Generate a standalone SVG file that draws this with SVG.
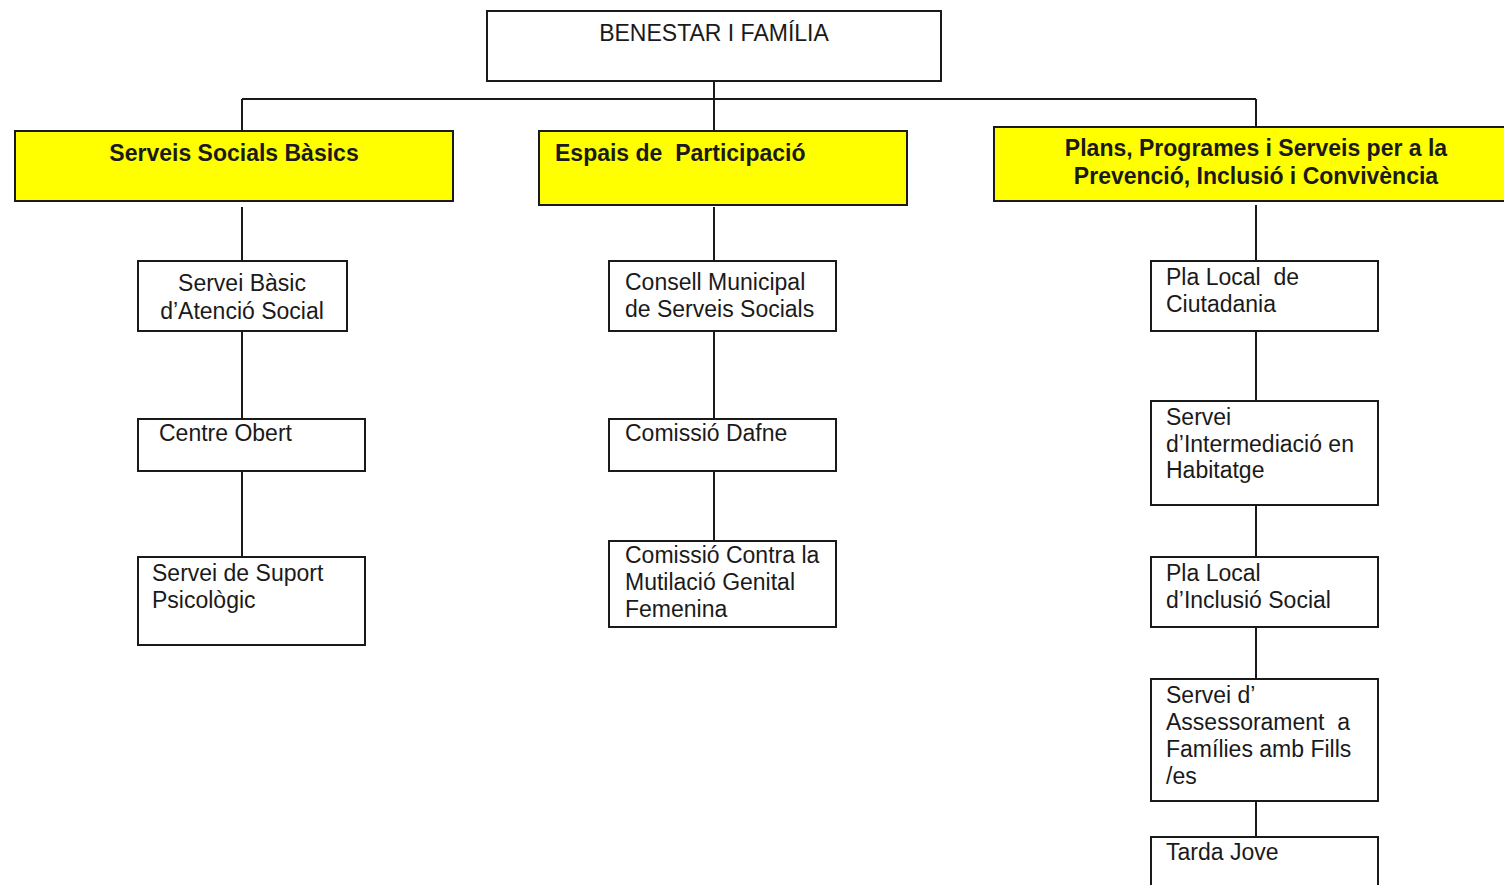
<svg xmlns="http://www.w3.org/2000/svg" width="1504" height="885" viewBox="0 0 1504 885">
<style>
  .box { fill: #ffffff; stroke: #1a1a1a; stroke-width: 2; }
  .ybox { fill: #ffff00; stroke: #1a1a1a; stroke-width: 2; }
  .t { font-family: "Liberation Sans", Arial, sans-serif; font-size: 23px; fill: #1a1a1a; }
  .b { font-family: "Liberation Sans", Arial, sans-serif; font-size: 23px; font-weight: bold; fill: #1a1a1a; }
  .c { text-anchor: middle; }
  .ln { stroke: #1a1a1a; stroke-width: 2; fill: none; }
</style>
<rect width="1504" height="885" fill="#ffffff"/>
<g id="connectors">
  <line class="ln" x1="714" y1="82" x2="714" y2="131"/>
  <line class="ln" x1="242" y1="99" x2="1256" y2="99"/>
  <line class="ln" x1="242" y1="99" x2="242" y2="131"/>
  <line class="ln" x1="1256" y1="99" x2="1256" y2="127"/>
  <line class="ln" x1="242" y1="207" x2="242" y2="261"/>
  <line class="ln" x1="242" y1="331" x2="242" y2="419"/>
  <line class="ln" x1="242" y1="471" x2="242" y2="557"/>
  <line class="ln" x1="714" y1="207" x2="714" y2="261"/>
  <line class="ln" x1="714" y1="331" x2="714" y2="419"/>
  <line class="ln" x1="714" y1="471" x2="714" y2="541"/>
  <line class="ln" x1="1256" y1="205" x2="1256" y2="261"/>
  <line class="ln" x1="1256" y1="331" x2="1256" y2="401"/>
  <line class="ln" x1="1256" y1="505" x2="1256" y2="557"/>
  <line class="ln" x1="1256" y1="627" x2="1256" y2="679"/>
  <line class="ln" x1="1256" y1="801" x2="1256" y2="837"/>
</g>
<g id="benestar">
  <rect class="box" x="487" y="11" width="454" height="70"/>
  <text class="t c" x="714" y="41">BENESTAR I FAMÍLIA</text>
</g>
<g id="serveis-socials-basics">
  <rect class="ybox" x="15" y="131" width="438" height="70"/>
  <text class="b c" x="234" y="161">Serveis Socials Bàsics</text>
</g>
<g id="espais-participacio">
  <rect class="ybox" x="539" y="131" width="368" height="74"/>
  <text class="b" x="555" y="161" xml:space="preserve">Espais de  Participació</text>
</g>
<g id="plans-programes">
  <rect class="ybox" x="994" y="127" width="520" height="74"/>
  <text class="b c" x="1256" y="156">Plans, Programes i Serveis per a la</text>
  <text class="b c" x="1256" y="184">Prevenció, Inclusió i Convivència</text>
</g>
<g id="servei-basic">
  <rect class="box" x="138" y="261" width="209" height="70"/>
  <text class="t c" x="242" y="291">Servei Bàsic</text>
  <text class="t c" x="242" y="319">d’Atenció Social</text>
</g>
<g id="centre-obert">
  <rect class="box" x="138" y="419" width="227" height="52"/>
  <text class="t" x="159" y="441">Centre Obert</text>
</g>
<g id="suport-psicologic">
  <rect class="box" x="138" y="557" width="227" height="88"/>
  <text class="t" x="152" y="581">Servei de Suport</text>
  <text class="t" x="152" y="608">Psicològic</text>
</g>
<g id="consell-municipal">
  <rect class="box" x="609" y="261" width="227" height="70"/>
  <text class="t" x="625" y="290">Consell Municipal</text>
  <text class="t" x="625" y="317">de Serveis Socials</text>
</g>
<g id="comissio-dafne">
  <rect class="box" x="609" y="419" width="227" height="52"/>
  <text class="t" x="625" y="441">Comissió Dafne</text>
</g>
<g id="comissio-mutilacio">
  <rect class="box" x="609" y="541" width="227" height="86"/>
  <text class="t" x="625" y="563">Comissió Contra la</text>
  <text class="t" x="625" y="590">Mutilació Genital</text>
  <text class="t" x="625" y="617">Femenina</text>
</g>
<g id="pla-ciutadania">
  <rect class="box" x="1151" y="261" width="227" height="70"/>
  <text class="t" x="1166" y="285" xml:space="preserve">Pla Local  de</text>
  <text class="t" x="1166" y="312">Ciutadania</text>
</g>
<g id="intermediacio-habitatge">
  <rect class="box" x="1151" y="401" width="227" height="104"/>
  <text class="t" x="1166" y="425">Servei</text>
  <text class="t" x="1166" y="452">d’Intermediació en</text>
  <text class="t" x="1166" y="478">Habitatge</text>
</g>
<g id="pla-inclusio">
  <rect class="box" x="1151" y="557" width="227" height="70"/>
  <text class="t" x="1166" y="581">Pla Local</text>
  <text class="t" x="1166" y="608">d’Inclusió Social</text>
</g>
<g id="assessorament-families">
  <rect class="box" x="1151" y="679" width="227" height="122"/>
  <text class="t" x="1166" y="703">Servei d’</text>
  <text class="t" x="1166" y="730" xml:space="preserve">Assessorament  a</text>
  <text class="t" x="1166" y="757">Famílies amb Fills</text>
  <text class="t" x="1166" y="784">/es</text>
</g>
<g id="tarda-jove">
  <rect class="box" x="1151" y="837" width="227" height="60"/>
  <text class="t" x="1166" y="860">Tarda Jove</text>
</g>
</svg>
